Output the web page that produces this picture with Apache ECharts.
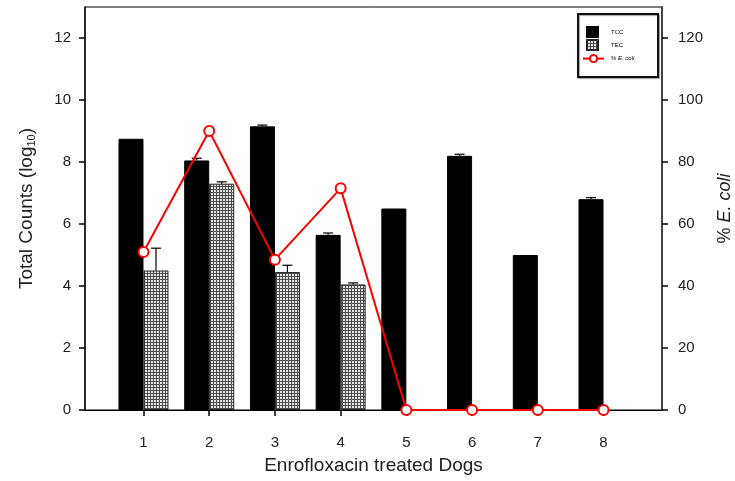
<!DOCTYPE html>
<html>
<head>
<meta charset="utf-8">
<script src="https://cdn.jsdelivr.net/npm/echarts@6/dist/echarts.min.js"></script>
<style>html,body{margin:0;padding:0;background:#fff;}#c{width:735px;height:481px;}</style>
</head>
<body>
<div id="c"></div>
<script>
// ---- data ----
var dogs = [1, 2, 3, 4, 5, 6, 7, 8];
var tcc = [8.75, 8.05, 9.15, 5.65, 6.5, 8.2, 5.0, 6.8];
var tccErr = [0, 0.07, 0.04, 0.06, 0, 0.05, 0, 0.05];
var tec = [4.5, 7.3, 4.45, 4.05, null, null, null, null];
var tecErr = [0.72, 0.06, 0.22, 0.05, null, null, null, null];
var ecoliPct = [51, 90, 48.5, 71.5, 0, 0, 0, 0];
var leftTicks = [0, 2, 4, 6, 8, 10, 12];
var rightTicks = [0, 20, 40, 60, 80, 100, 120];

var FONT = '"Liberation Sans", Arial, sans-serif';
var BAR_W = 25;

// pattern for TEC bars
function makePattern() {
  var cv = document.createElement('canvas');
  cv.width = 3; cv.height = 3;
  var ctx = cv.getContext('2d');
  ctx.fillStyle = '#4e4e4e';
  ctx.fillRect(0, 0, 3, 3);
  ctx.fillStyle = '#e6e6e6';
  ctx.fillRect(1, 1, 2, 2);
  return cv;
}
var pattern = { image: makePattern(), repeat: 'repeat' };

function pairs(vals) {
  return dogs.map(function (d, i) { return [d, vals[i]]; });
}
function errData(vals, errs, side) {
  var out = [];
  dogs.forEach(function (d, i) {
    if (vals[i] != null && errs[i] != null && errs[i] > 0) out.push([d, vals[i], vals[i] + errs[i], side]);
  });
  return out;
}

function renderErr(params, api) {
  var x = api.value(0);
  var lo = api.coord([x, api.value(1)]);
  var hi = api.coord([x, api.value(2)]);
  var cx = lo[0] + api.value(3) * BAR_W / 2;
  var capHalf = 5;
  return {
    type: 'group',
    children: [
      { type: 'line', shape: { x1: cx, y1: lo[1], x2: cx, y2: hi[1] }, style: { stroke: '#000', lineWidth: 1.2 } },
      { type: 'line', shape: { x1: cx - capHalf, y1: hi[1], x2: cx + capHalf, y2: hi[1] }, style: { stroke: '#000', lineWidth: 1.2 } }
    ]
  };
}

var chart = echarts.init(document.getElementById('c'), null, { renderer: 'canvas' });
var option = {
  animation: false,
  backgroundColor: '#fff',
  textStyle: { fontFamily: FONT },
  grid: { left: 85, right: 73, top: 7, bottom: 71, show: true, borderColor: '#000', borderWidth: 1, backgroundColor: 'transparent',
    containLabel: false, outerBoundsMode: 'none' },
  graphic: [{
    type: 'rect', left: 577, top: 13, shape: { width: 80, height: 63 },
    style: { fill: '#fff', stroke: '#111', lineWidth: 2, shadowColor: 'rgba(0,0,0,0.35)', shadowOffsetX: 1, shadowOffsetY: 1, shadowBlur: 1 },
    z: 10
  }],
  legend: [{
    data: [{ name: 'TCC', icon: 'rect' }, { name: 'TEC', icon: 'rect' }],
    orient: 'vertical', left: 586, top: 26, itemWidth: 11, itemHeight: 10, itemGap: 1,
    padding: 0, z: 20,
    textStyle: { fontSize: 6, fontFamily: FONT, color: '#000', padding: [0, 0, 0, 8] }
  }, {
    data: ['% E. coli'],
    orient: 'vertical', left: 582, top: 54, itemWidth: 21, itemHeight: 9,
    padding: 0, z: 20,
    formatter: function () { return '{n|% }{i|E. coli}'; },
    textStyle: { fontSize: 6, fontFamily: FONT, color: '#000', padding: [0, 0, 0, 2],
      rich: { n: { fontSize: 6, fontFamily: FONT }, i: { fontSize: 6, fontStyle: 'italic', fontFamily: FONT } } }
  }],
  xAxis: {
    type: 'value', min: 0.11, max: 8.89,
    name: 'Enrofloxacin treated Dogs', nameLocation: 'middle', nameGap: 46,
    nameTextStyle: { fontSize: 19, color: '#222', fontFamily: FONT },
    axisLine: { lineStyle: { color: '#000', width: 1 } },
    axisTick: { show: true, length: 6, customValues: dogs, lineStyle: { color: '#000', width: 1.5 } },
    axisLabel: { customValues: dogs, margin: 25, fontSize: 15, color: '#222', fontFamily: FONT },
    splitLine: { show: false }
  },
  yAxis: [{
    type: 'value', min: 0, max: 13, position: 'left',
    name: 'Total Counts (log{s|10})', nameLocation: 'middle', nameGap: 48, nameRotate: 90,
    nameTextStyle: { fontSize: 19, color: '#222', fontFamily: FONT,
      rich: { s: { fontSize: 11, fontFamily: FONT, color: '#222', padding: [10, 0, 0, 0] } } },
    axisLine: { show: true, lineStyle: { color: '#111', width: 1.5 } },
    axisTick: { show: true, length: 6, customValues: leftTicks, lineStyle: { color: '#000', width: 1.5 } },
    axisLabel: { customValues: leftTicks, margin: 14, fontSize: 15, color: '#222', fontFamily: FONT },
    splitLine: { show: false }
  }, {
    type: 'value', min: 0, max: 130, position: 'right',
    name: '% {i|E. coli}', nameLocation: 'middle', nameGap: 54, nameRotate: 90,
    nameTextStyle: { fontSize: 18, color: '#222', fontFamily: FONT, fontStyle: 'normal',
      rich: { i: { fontSize: 18, fontStyle: 'italic', fontFamily: FONT, color: '#222' } } },
    axisLine: { show: true, lineStyle: { color: '#444', width: 2 } },
    axisTick: { show: true, length: 6, customValues: rightTicks, lineStyle: { color: '#000', width: 1.5 } },
    axisLabel: { customValues: rightTicks, margin: 16, fontSize: 15, color: '#222', fontFamily: FONT },
    splitLine: { show: false }
  }],
  series: [{
    name: 'TCC', type: 'bar', data: pairs(tcc), barWidth: BAR_W, barGap: '0%',
    itemStyle: { color: '#000', borderColor: '#000', borderWidth: 1 }, z: 2
  }, {
    name: 'TEC', type: 'bar', data: pairs(tec), barWidth: BAR_W, barGap: '0%',
    itemStyle: { color: pattern, borderColor: '#222', borderWidth: 1 }, z: 2
  }, {
    name: 'tccErr', type: 'custom', renderItem: renderErr, data: errData(tcc, tccErr, -1),
    encode: { x: 0, y: [1, 2] }, z: 3, silent: true
  }, {
    name: 'tecErr', type: 'custom', renderItem: renderErr, data: errData(tec, tecErr, 1),
    encode: { x: 0, y: [1, 2] }, z: 3, silent: true
  }, {
    name: '% E. coli', type: 'line', yAxisIndex: 1, data: pairs(ecoliPct),
    symbol: 'circle', symbolSize: 10,
    lineStyle: { color: '#ff0000', width: 2 },
    itemStyle: { color: '#fff', borderColor: '#ff0000', borderWidth: 2 },
    z: 5
  }]
};
chart.setOption(option);
</script>
</body>
</html>
